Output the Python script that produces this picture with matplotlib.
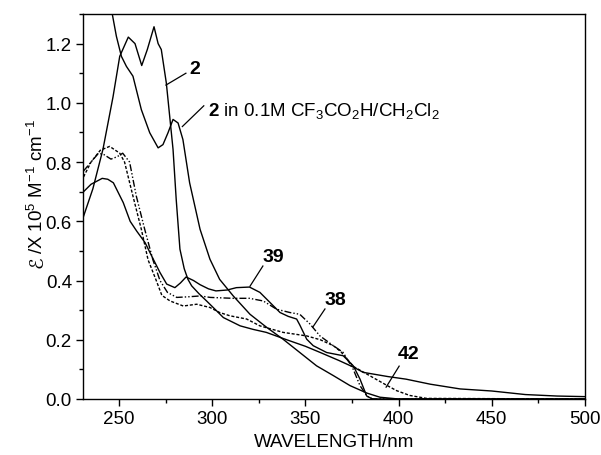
import matplotlib
matplotlib.use('Agg')
import matplotlib.pyplot as plt
from matplotlib.ticker import MultipleLocator, FormatStrFormatter

plt.rcParams['font.family'] = ['Liberation Sans', 'DejaVu Sans']
plt.rcParams['mathtext.fontset'] = 'custom'
plt.rcParams['mathtext.rm'] = 'Liberation Sans'
plt.rcParams['mathtext.it'] = 'Liberation Sans:italic'
plt.rcParams['mathtext.bf'] = 'Liberation Sans:bold'

# compound 2 (neutral)
w_2 = [231, 236, 241.4, 246.8, 250.4, 255, 258.6, 262.2, 265.2, 268.8, 271, 272.7, 275.4,
       277.2, 279, 280.7, 282.7, 285, 287, 289, 293, 297, 302, 306, 315, 322, 329, 340,
       350, 358, 368, 376, 381, 394, 404, 417, 433, 450, 468, 485, 500]
e_2 = [0.617, 0.71, 0.843, 1.02, 1.157, 1.222, 1.20, 1.126, 1.18, 1.257, 1.20, 1.18, 1.067,
       0.955, 0.843, 0.674, 0.506, 0.44, 0.404, 0.382, 0.355, 0.331, 0.30, 0.275, 0.247,
       0.235, 0.225, 0.20, 0.178, 0.157, 0.13, 0.107, 0.09, 0.076, 0.067, 0.05, 0.034,
       0.027, 0.015, 0.01, 0.008]

# compound 2 in 0.1M CF3CO2H/CH2Cl2
w_2h = [231, 236, 241, 246.4, 248.6, 251.3, 254, 257.5, 262, 266.5, 271, 273.6, 276.3, 279,
        281.7, 284.3, 287.9, 293.5, 298.8, 304, 311.3, 320.3, 329.2, 338, 347, 356, 365,
        374, 383, 390, 400, 500]
e_2h = [1.85, 1.64, 1.46, 1.30, 1.225, 1.157, 1.123, 1.09, 0.977, 0.899, 0.848, 0.859, 0.899,
        0.944, 0.932, 0.876, 0.73, 0.573, 0.472, 0.404, 0.348, 0.286, 0.242, 0.202, 0.157,
        0.112, 0.079, 0.045, 0.02, 0.006, 0.0, 0.0]

# compound 39
w_39 = [231, 235, 241, 244, 247, 252.3, 256, 259.5, 264, 268.4, 272, 275.6, 280, 283, 286,
        290, 293.5, 298, 302, 308, 313, 320, 325.6, 331, 336.4, 340.8, 345.3, 347, 350.7,
        354.2, 361.4, 370.3, 375.7, 379.3, 382.9, 386, 500]
e_39 = [0.70, 0.725, 0.745, 0.742, 0.73, 0.663, 0.60, 0.567, 0.528, 0.472, 0.427, 0.388,
        0.376, 0.392, 0.412, 0.40, 0.386, 0.372, 0.365, 0.368, 0.376, 0.378, 0.36, 0.326,
        0.292, 0.279, 0.27, 0.25, 0.202, 0.18, 0.157, 0.146, 0.112, 0.067, 0.01, 0.0, 0.0]

# compound 38
w_38 = [231, 235, 239, 242, 245.7, 249, 252, 255.7, 259.3, 263.8, 268.2, 272, 276, 281, 287,
        293.5, 299, 311, 320, 327.4, 334.6, 341.7, 347, 352.5, 357.8, 365, 370.3, 375.7,
        379.3, 383, 386, 500]
e_38 = [0.77, 0.80, 0.83, 0.825, 0.81, 0.818, 0.83, 0.80, 0.685, 0.573, 0.47, 0.40, 0.36,
        0.343, 0.345, 0.348, 0.343, 0.34, 0.34, 0.331, 0.303, 0.292, 0.286, 0.253, 0.213,
        0.18, 0.157, 0.10, 0.045, 0.01, 0.0, 0.0]

# compound 42
w_42 = [231, 235, 240, 245, 250.4, 253, 257.5, 262, 265.6, 270, 273, 277.4, 284.5, 291.7,
        298.8, 304, 309.5, 318.5, 325.6, 338, 350.7, 358, 365, 369, 375.7, 385, 394, 399,
        406, 415, 500]
e_42 = [0.75, 0.80, 0.84, 0.853, 0.83, 0.80, 0.685, 0.573, 0.47, 0.40, 0.35, 0.331, 0.314,
        0.32, 0.309, 0.292, 0.281, 0.27, 0.247, 0.225, 0.213, 0.20, 0.18, 0.16, 0.11, 0.077,
        0.045, 0.028, 0.012, 0.002, 0.0]

fig = plt.figure(figsize=(6.01, 4.56), dpi=100)
ax = fig.add_axes([83 / 601, 56 / 456, 502 / 601, 385 / 456])

lw = 1.0
ax.plot(w_2, e_2, color='black', lw=lw)
ax.plot(w_2h, e_2h, color='black', lw=lw)
ax.plot(w_39, e_39, color='black', lw=lw)
ax.plot(w_38, e_38, color='black', lw=lw, linestyle=(0, (5, 1.5, 1, 1.5, 1, 1.5)))
ax.plot(w_42, e_42, color='black', lw=lw, linestyle=(0, (2.2, 1.3)))

ax.set_xlim(230.7, 500)
ax.set_ylim(0, 1.3)
ax.xaxis.set_major_locator(MultipleLocator(50))
ax.xaxis.set_minor_locator(MultipleLocator(25))
ax.yaxis.set_major_locator(MultipleLocator(0.2))
ax.yaxis.set_minor_locator(MultipleLocator(0.1))
ax.yaxis.set_major_formatter(FormatStrFormatter('%.1f'))
ax.tick_params(which='major', direction='out', length=5, width=1, labelsize=13.5, pad=3)
ax.tick_params(which='minor', direction='out', length=3, width=1)
for s in ax.spines.values():
    s.set_linewidth(1.0)

ax.set_xlabel('WAVELENGTH/nm', fontsize=13.5, labelpad=4)

# y label: script E from DejaVu, rest in Liberation Sans
fig.text(47 / 601, 1 - 268 / 456, '\u2130', rotation=90, ha='right', va='bottom',
         fontsize=14, family='DejaVu Sans')
fig.text(47 / 601, 1 - 254 / 456, '/X 10$^{5}$ M$^{-1}$ cm$^{-1}$', rotation=90,
         ha='right', va='bottom', fontsize=13.5)

# annotations with leader lines
def lead(x0, y0, x1, y1):
    ax.plot([x0, x1], [y0, y1], color='black', lw=0.9)

lead(275.2, 1.06, 285.9, 1.10)
ax.text(290.8, 1.115, '2', fontsize=14, fontweight='bold', va='center', ha='center')

lead(284.0, 0.92, 295.5, 0.99)
ax.text(297.7, 0.975, r'$\mathbf{2}$ in 0.1M CF$_3$CO$_2$H/CH$_2$Cl$_2$', fontsize=13.5,
        va='center', ha='left')

lead(320.3, 0.381, 327.2, 0.449)
ax.text(332.6, 0.482, '39', fontsize=14, fontweight='bold', va='center', ha='center')

lead(354.0, 0.243, 360.5, 0.304)
ax.text(365.9, 0.337, '38', fontsize=14, fontweight='bold', va='center', ha='center')

lead(393.3, 0.040, 400.3, 0.111)
ax.text(405.6, 0.155, '42', fontsize=14, fontweight='bold', va='center', ha='center')

plt.savefig('out.png', dpi=100)
plt.close()
